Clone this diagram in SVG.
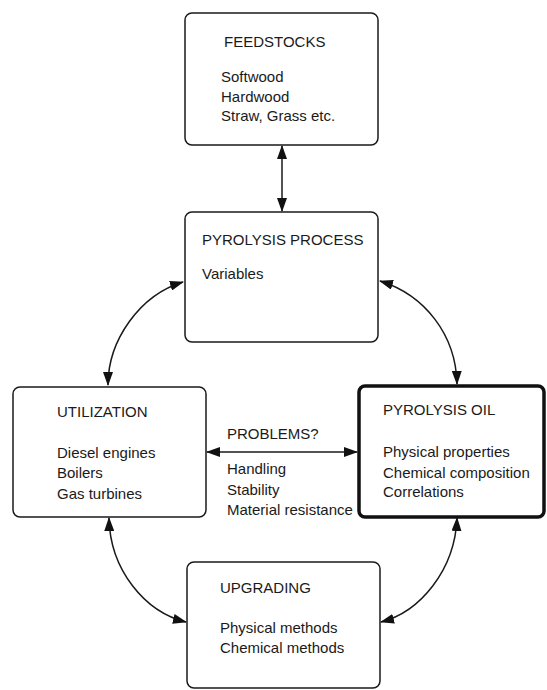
<svg xmlns="http://www.w3.org/2000/svg" width="547" height="690" viewBox="0 0 547 690">
<style>
.box{fill:#fff;stroke:#1a1a1a;stroke-width:1.5}
.thick{fill:#fff;stroke:#111;stroke-width:3.5}
text{font-family:"Liberation Sans",Arial,sans-serif;font-size:15px;fill:#1a1a1a}
.c{fill:none;stroke:#1a1a1a;stroke-width:1.5}
</style>
<defs>
<marker id="ah" viewBox="0 0 14 10" refX="13" refY="5" markerWidth="14" markerHeight="10" markerUnits="userSpaceOnUse" orient="auto-start-reverse">
<path d="M0,0 L14,5 L0,10 Z" fill="#111"/>
</marker>
</defs>
<rect width="547" height="690" fill="#fff"/>
<g id="connectors">
<line class="c" x1="282" y1="146" x2="282" y2="211" marker-start="url(#ah)" marker-end="url(#ah)"/>
<path class="c" d="M108,385 C108,340 140,295 183,282" marker-start="url(#ah)" marker-end="url(#ah)"/>
<path class="c" d="M380,281 C425,295 456,335 457,384" marker-start="url(#ah)" marker-end="url(#ah)"/>
<path class="c" d="M109,518 C110,570 145,612 186,622" marker-start="url(#ah)" marker-end="url(#ah)"/>
<path class="c" d="M457,518 C455,570 420,612 381,622" marker-start="url(#ah)" marker-end="url(#ah)"/>
<line class="c" x1="207" y1="452" x2="357" y2="452" marker-start="url(#ah)" marker-end="url(#ah)"/>
</g>
<g id="feedstocks">
<rect class="box" x="185" y="13" width="193" height="132" rx="7"/>
<text x="224" y="47">FEEDSTOCKS</text>
<text x="221" y="82">Softwood</text>
<text x="221" y="102">Hardwood</text>
<text x="221" y="121">Straw, Grass etc.</text>
</g>
<g id="process">
<rect class="box" x="185" y="212" width="193" height="130" rx="7"/>
<text x="202" y="245">PYROLYSIS PROCESS</text>
<text x="202" y="279">Variables</text>
</g>
<g id="utilization">
<rect class="box" x="13" y="387" width="193" height="130" rx="7"/>
<text x="57" y="417">UTILIZATION</text>
<text x="57" y="458">Diesel engines</text>
<text x="57" y="478">Boilers</text>
<text x="57" y="499">Gas turbines</text>
</g>
<g id="problems">
<text x="227" y="439">PROBLEMS?</text>
<text x="227" y="474">Handling</text>
<text x="227" y="495">Stability</text>
<text x="227" y="515">Material resistance</text>
</g>
<g id="oil">
<rect class="thick" x="359" y="386" width="185" height="131" rx="6"/>
<text x="383" y="415">PYROLYSIS OIL</text>
<text x="383" y="457">Physical properties</text>
<text x="383" y="478">Chemical composition</text>
<text x="383" y="497">Correlations</text>
</g>
<g id="upgrading">
<rect class="box" x="187" y="562" width="193" height="126" rx="7"/>
<text x="220" y="593">UPGRADING</text>
<text x="220" y="633">Physical methods</text>
<text x="220" y="653">Chemical methods</text>
</g>
</svg>
